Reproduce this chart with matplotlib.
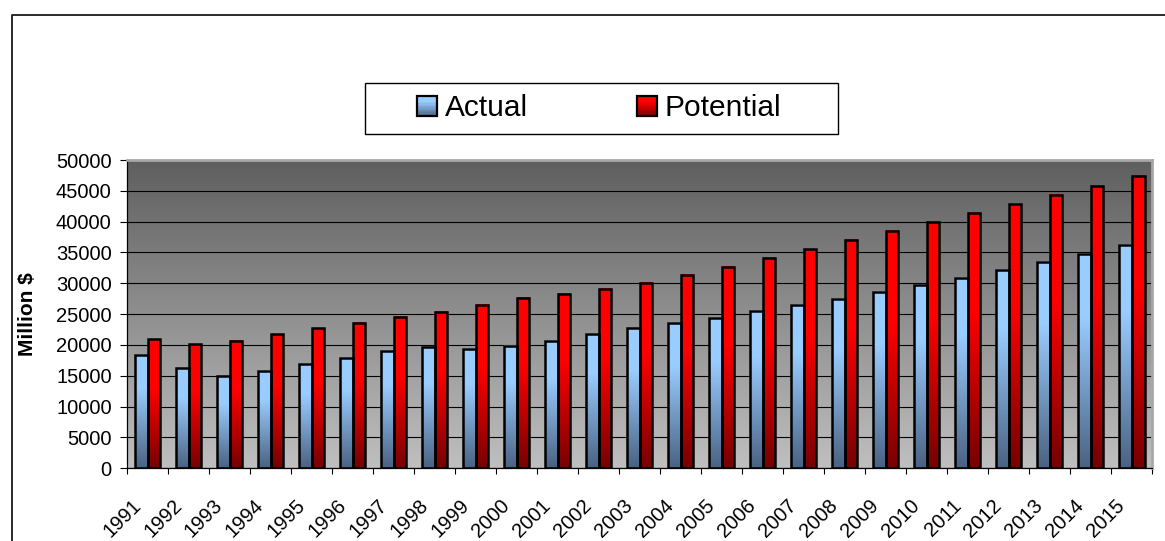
import numpy as np
import matplotlib
matplotlib.use("Agg")
import matplotlib.pyplot as plt
from matplotlib.patches import Rectangle
from matplotlib.lines import Line2D
from matplotlib.legend_handler import HandlerBase
from matplotlib.transforms import ScaledTranslation
from matplotlib.colors import to_rgb

plt.rcParams['font.family'] = ['Liberation Sans', 'DejaVu Sans']

# ---- data -------------------------------------------------------------
years = [str(y) for y in range(1991, 2016)]
actual = [18400, 16200, 14900, 15800, 16900, 17900, 19100, 19600, 19300,
          19900, 20700, 21800, 22700, 23600, 24400, 25500, 26500, 27500,
          28600, 29700, 30900, 32200, 33500, 34800, 36200]
potential = [20900, 20100, 20700, 21700, 22700, 23600, 24600, 25400, 26500,
             27600, 28300, 29100, 30100, 31400, 32700, 34100, 35500, 37000,
             38500, 39900, 41400, 42800, 44300, 45800, 47400]
series_names = ["Actual", "Potential"]
y_ticks = list(range(0, 50001, 5000))

# gradient colours (top, bottom) per series
blue_top, blue_bottom = "#99ccff", "#4a6282"
red_top, red_bottom = "#ff0000", "#760000"

W, H = 1165, 541
fig = plt.figure(figsize=(W / 100, H / 100), dpi=100)
fig.patch.set_facecolor("white")

ax = fig.add_axes([127 / W, (H - 468.3) / H, (1152.3 - 127) / W, (468.3 - 160) / H])


def gradient_column(top, bottom, n=256, flat=0.7):
    """Vertical colour ramp: index 0 is the top row."""
    t = np.linspace(1, 0, n)                  # 1 at top, 0 at bottom
    f = np.clip(t / flat, 0, 1)[:, None]
    c_top = np.array(to_rgb(top))
    c_bot = np.array(to_rgb(bottom))
    return (c_bot + (c_top - c_bot) * f)[:, None, :]


# plot-area background: dark grey at the top fading to light grey
bg = np.linspace(0, 1, 256)[:, None]
bg_top, bg_bot = np.array([0.37, 0.37, 0.37]), np.array([0.75, 0.75, 0.75])
bg_img = (bg_top + (bg_bot - bg_top) * bg)[:, :, None] * np.ones((1, 1, 3))
ax.imshow(bg_img, extent=(0, 1, 0, 1), transform=ax.transAxes,
          aspect="auto", zorder=0, interpolation="bilinear")

x = np.arange(len(years))
bw = 0.31
bars_a = ax.bar(x - bw / 2, actual, bw, facecolor="none", edgecolor="black",
                linewidth=1.8, zorder=3)
bars_p = ax.bar(x + bw / 2, potential, bw, facecolor="none", edgecolor="black",
                linewidth=1.8, zorder=3)

# fill each bar with its vertical gradient
for bars, top, bottom, flat in ((bars_a, blue_top, blue_bottom, 0.7),
                                (bars_p, red_top, red_bottom, 0.62)):
    img = gradient_column(top, bottom, flat=flat)
    for r in bars:
        x0, w, h = r.get_x(), r.get_width(), r.get_height()
        ax.imshow(img, extent=(x0, x0 + w, 0, h), aspect="auto",
                  zorder=2.5, interpolation="bilinear")

ax.set_xlim(-0.5, len(years) - 0.5)
ax.set_ylim(0, 50000)

# gridlines
ax.set_axisbelow(True)
ax.yaxis.grid(True, color="black", linewidth=0.8)
ax.set_yticks(y_ticks)
ax.set_yticklabels([str(v) for v in y_ticks])
ax.tick_params(axis="y", direction="out", length=5, width=0.8,
               labelsize=14.5, pad=6)

# category labels centred under each group, ticks at group boundaries
ax.set_xticks(x)
ax.set_xticklabels(years, rotation=45, ha="right", fontsize=14.5)
ax.set_xticks(np.arange(-0.5, len(years)), minor=True)
ax.tick_params(axis="x", which="major", length=0, pad=20)
ax.tick_params(axis="x", which="minor", direction="out", length=4.5, width=0.8)
shift = ScaledTranslation(-3 / 100, 0, fig.dpi_scale_trans)
for lab in ax.get_xticklabels():
    lab.set_transform(lab.get_transform() + shift)

ax.set_ylabel("Million $", fontsize=15, fontweight="bold")
ax.yaxis.set_label_coords((37 - 127) / (1152.3 - 127), 0.5)

for s in ("left", "bottom"):
    ax.spines[s].set_color("black")
    ax.spines[s].set_linewidth(0.9)
for s in ("top", "right"):
    ax.spines[s].set_color("#a8a8a8")
    ax.spines[s].set_linewidth(2.0)


# legend with gradient swatches
class GradientHandler(HandlerBase):
    def __init__(self, top, bottom):
        super().__init__()
        self.top, self.bottom = to_rgb(top), to_rgb(bottom)

    def create_artists(self, legend, orig_handle, xdescent, ydescent,
                       width, height, fontsize, trans):
        n = 16
        arts = []
        top, bot = np.array(self.top), np.array(self.bottom)
        for k in range(n):
            f = min(1.0, (k + 0.5) / n / 0.7)
            col = bot + (top - bot) * f
            arts.append(Rectangle((-xdescent, -ydescent + k * height / n),
                                  width, height / n + 0.01, facecolor=col,
                                  edgecolor="none", transform=trans))
        arts.append(Rectangle((-xdescent, -ydescent), width, height,
                              facecolor="none", edgecolor="black",
                              linewidth=1.6, transform=trans))
        return arts


h_a = Rectangle((0, 0), 1, 1)
h_p = Rectangle((0, 0), 1, 1)
leg = fig.legend([h_a, h_p], series_names, loc="center",
                 bbox_to_anchor=(599 / W, 1 - 108.5 / H),
                 bbox_transform=fig.transFigure, ncol=2, frameon=False,
                 fontsize=21.5, handlelength=0.67, handleheight=0.67,
                 handletextpad=0.27, columnspacing=3.65, borderpad=0,
                 handler_map={h_a: GradientHandler(blue_top, blue_bottom),
                              h_p: GradientHandler(red_top, red_bottom)})

# legend box
fig.add_artist(Rectangle((365 / W, 1 - 134 / H), (838 - 365) / W, (134 - 83) / H,
                         transform=fig.transFigure, facecolor="white",
                         edgecolor="black", linewidth=1.0, zorder=0.5))

# chart-area border (continues past the right and bottom edges)
fig.add_artist(Line2D([12 / W, 12 / W, 1.01], [-0.01, 1 - 15 / H, 1 - 15 / H],
                      transform=fig.transFigure, color="#1a1a1a", linewidth=1.3))

fig.savefig("out.png", dpi=100, facecolor="white")
